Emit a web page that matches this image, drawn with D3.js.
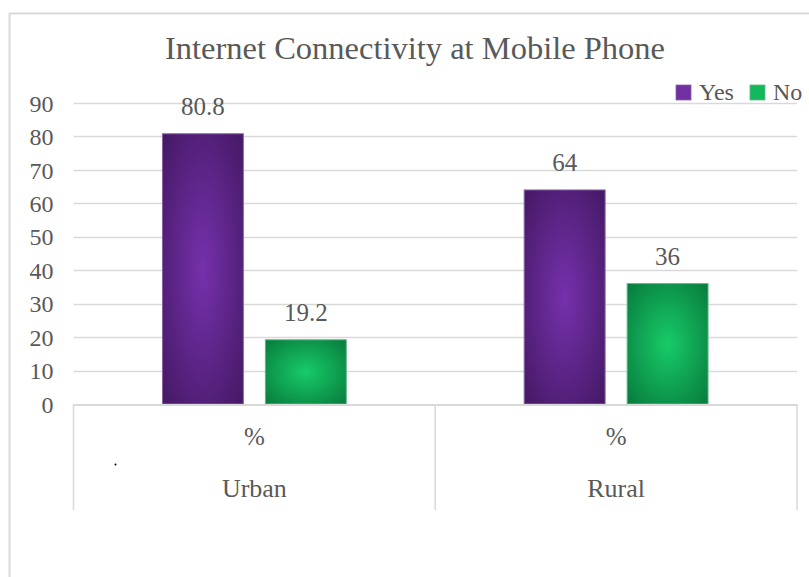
<!DOCTYPE html>
<html>
<head>
<meta charset="utf-8">
<script src="https://cdn.jsdelivr.net/npm/d3@7"></script>
<style>
  html, body { margin: 0; padding: 0; background: #fff; }
  svg { display: block; }
</style>
</head>
<body>
<svg id="chart" width="809" height="577"></svg>
<script>
// Chart data
const categories = ["Urban", "Rural"];
const subLabels = ["%", "%"];
const seriesNames = ["Yes", "No"];
const yesValues = [80.8, 64];
const noValues = [19.2, 36];
const yTicks = [0, 10, 20, 30, 40, 50, 60, 70, 80, 90];
const chartTitle = "Internet Connectivity at Mobile Phone";

const FONT = "'Liberation Serif', serif";
const TEXT = "#595959";

const svg = d3.select("#chart");
const plot = { left: 73.5, right: 797, top: 103, bottom: 404 };

// Outer chart frame
svg.append("rect")
  .attr("x", 9.5).attr("y", 13.5)
  .attr("width", 830).attr("height", 620)
  .attr("fill", "#fff").attr("stroke", "#d9d9d9").attr("stroke-width", 2);

// Gradients for bar fills
const defs = svg.append("defs");
function radial(id, inner, outer) {
  const g = defs.append("radialGradient").attr("id", id)
    .attr("cx", "50%").attr("cy", "50%").attr("r", "75%");
  g.append("stop").attr("offset", "0%").attr("stop-color", inner);
  g.append("stop").attr("offset", "100%").attr("stop-color", outer);
}
radial("gYes", "#7531AC", "#41175F");
radial("gNo", "#17CB68", "#07753A");
const fills = { Yes: "url(#gYes)", No: "url(#gNo)" };
const strokes = { Yes: "#8a63a8", No: "#5fb887" };
const legendColors = { Yes: "#7030A0", No: "#13B85C" };

function label(sel, size) {
  return sel.style("font-family", FONT).attr("font-size", size).attr("fill", TEXT);
}

// Scales
const y = d3.scaleLinear().domain([0, 90]).range([plot.bottom, plot.top]);
const x0 = d3.scaleBand().domain(categories).range([plot.left, plot.right]).padding(0);
const x1 = d3.scaleBand().domain(seriesNames).range([0, x0.bandwidth()])
  .paddingInner(0.214).paddingOuter(0.864);

// Gridlines
svg.append("g").selectAll("line").data(yTicks.filter(t => t > 0)).join("line")
  .attr("x1", plot.left).attr("x2", plot.right)
  .attr("y1", d => Math.round(y(d)) + 0.5).attr("y2", d => Math.round(y(d)) + 0.5)
  .attr("stroke", "#d9d9d9").attr("stroke-width", 1.5);

// Y axis labels
const yAxis = svg.append("g").attr("transform", `translate(${plot.left - 20},0)`)
  .call(d3.axisLeft(y).tickValues(yTicks).tickSize(0).tickPadding(0));
yAxis.select(".domain").remove();
label(yAxis.selectAll("text"), 24).attr("dy", "0.34em");

// Bars
const rows = categories.map((c, i) => ({ cat: c, values: [
  { s: "Yes", v: yesValues[i] }, { s: "No", v: noValues[i] } ] }));

const groups = svg.append("g").selectAll("g").data(rows).join("g")
  .attr("transform", d => `translate(${x0(d.cat)},0)`);

groups.selectAll("rect").data(d => d.values).join("rect")
  .attr("x", d => x1(d.s))
  .attr("y", d => y(d.v))
  .attr("width", x1.bandwidth())
  .attr("height", d => y(0) - y(d.v))
  .attr("fill", d => fills[d.s])
  .attr("stroke", d => strokes[d.s]).attr("stroke-width", 1);

label(groups.selectAll("text.val").data(d => d.values).join("text")
  .attr("class", "val")
  .attr("x", d => x1(d.s) + x1.bandwidth() / 2)
  .attr("y", d => y(d.v) - 19)
  .attr("text-anchor", "middle")
  .text(d => String(d.v)), 25);

// Category axis: baseline and table-style dividers
svg.append("line")
  .attr("x1", plot.left).attr("x2", plot.right)
  .attr("y1", plot.bottom + 1).attr("y2", plot.bottom + 1)
  .attr("stroke", "#d9d9d9").attr("stroke-width", 2);
const dividers = [plot.left].concat(categories.map(c => x0(c) + x0.bandwidth()));
svg.append("g").selectAll("line").data(dividers).join("line")
  .attr("x1", d => d).attr("x2", d => d)
  .attr("y1", plot.bottom).attr("y2", 510)
  .attr("stroke", "#d9d9d9").attr("stroke-width", 1.5);

label(svg.append("g").selectAll("text").data(categories).join("text")
  .attr("x", d => x0(d) + x0.bandwidth() / 2)
  .attr("y", 445).attr("text-anchor", "middle")
  .text((d, i) => subLabels[i]), 25);
label(svg.append("g").selectAll("text").data(categories).join("text")
  .attr("x", d => x0(d) + x0.bandwidth() / 2)
  .attr("y", 497).attr("text-anchor", "middle")
  .text(d => d), 26);

// Small stray mark
svg.append("circle").attr("cx", 115.5).attr("cy", 464.5).attr("r", 1).attr("fill", "#000");

// Title
label(svg.append("text").attr("x", 415).attr("y", 59)
  .attr("text-anchor", "middle").text(chartTitle), 32.5);

// Legend
const legend = svg.append("g");
const legendX = [676, 750];
seriesNames.forEach((s, i) => {
  legend.append("rect").attr("x", legendX[i]).attr("y", 85)
    .attr("width", 15).attr("height", 15)
    .attr("fill", legendColors[s]).attr("stroke", strokes[s]).attr("stroke-width", 0.8);
  label(legend.append("text").attr("x", legendX[i] + 23).attr("y", 100).text(s), 24);
});
</script>
</body>
</html>
